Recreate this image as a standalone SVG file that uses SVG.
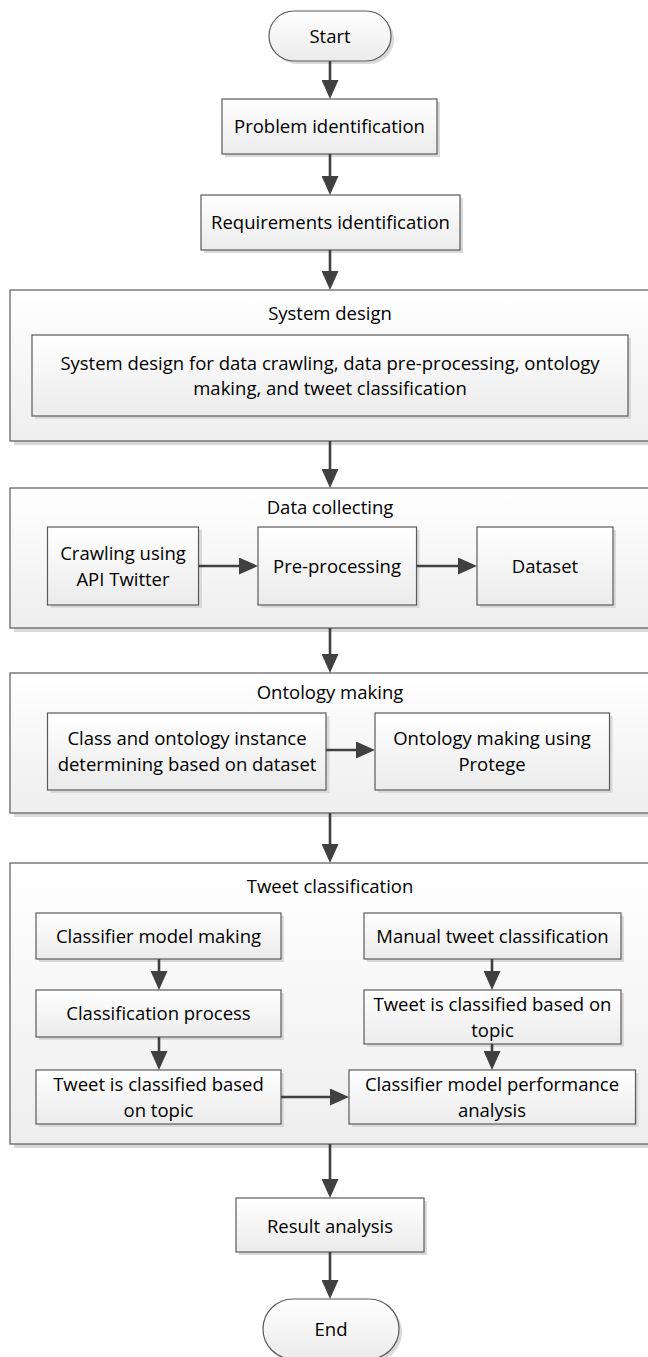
<svg xmlns="http://www.w3.org/2000/svg" width="648" height="1357" viewBox="0 0 648 1357">
<style>
  .box{fill:url(#g);stroke:#5a5a5a;stroke-width:1.2}
  .outer{fill:url(#g2);stroke:#5a5a5a;stroke-width:1.2}
  .sh{fill:#d9d9d9}
  .t{font-family:"Open Sans","Liberation Sans",sans-serif;font-size:18.5px;fill:#000;text-anchor:middle}
  .c{stroke:#404040;stroke-width:2.6;fill:none;marker-end:url(#ah)}
</style>
<defs>
  <linearGradient id="g" x1="0" y1="0" x2="0" y2="1">
    <stop offset="0" stop-color="#ffffff"/>
    <stop offset="1" stop-color="#ebebeb"/>
  </linearGradient>
  <linearGradient id="g2" x1="0" y1="0" x2="0" y2="1">
    <stop offset="0" stop-color="#ffffff"/>
    <stop offset="1" stop-color="#eeeeee"/>
  </linearGradient>
  <marker id="ah" markerUnits="userSpaceOnUse" markerWidth="19" markerHeight="17" refX="15" refY="8.5" orient="auto">
    <path d="M0,0 L19,8.5 L0,17 z" fill="#404040"/>
  </marker>
</defs>
<rect width="648" height="1357" fill="#ffffff"/>

<!-- Containers -->
<g id="system-design">
  <rect class="sh" x="14" y="294" width="660" height="151"/>
  <rect class="outer" x="10" y="290" width="660" height="151"/>
  <text class="t" x="330" y="319.5">System design</text>
</g>
<g id="system-design-detail">
  <rect class="sh" x="35" y="338" width="596" height="81"/>
  <rect class="box" x="32" y="335" width="596" height="81"/>
  <text class="t" x="330" y="369.5">System design for data crawling, data pre-processing, ontology</text>
  <text class="t" x="330" y="394.5">making, and tweet classification</text>
</g>

<g id="data-collecting">
  <rect class="sh" x="14" y="492" width="660" height="140"/>
  <rect class="outer" x="10" y="488" width="660" height="140"/>
  <text class="t" x="330" y="513.5">Data collecting</text>
</g>
<g id="crawling">
  <rect class="sh" x="51" y="530" width="151" height="78"/>
  <rect class="box" x="47.5" y="527" width="151" height="78"/>
  <text class="t" x="123" y="559.5">Crawling using</text>
  <text class="t" x="123" y="585.5">API Twitter</text>
</g>
<g id="pre-processing">
  <rect class="sh" x="261" y="530" width="158.5" height="78"/>
  <rect class="box" x="258" y="527" width="158.5" height="78"/>
  <text class="t" x="337" y="572.5">Pre-processing</text>
</g>
<g id="dataset">
  <rect class="sh" x="480" y="530" width="136" height="78"/>
  <rect class="box" x="477" y="527" width="136" height="78"/>
  <text class="t" x="545" y="572.5">Dataset</text>
</g>

<g id="ontology-making">
  <rect class="sh" x="14" y="677" width="660" height="140"/>
  <rect class="outer" x="10" y="673" width="660" height="140"/>
  <text class="t" x="330" y="698.5">Ontology making</text>
</g>
<g id="class-instance">
  <rect class="sh" x="51" y="716" width="278.5" height="77"/>
  <rect class="box" x="47.5" y="713" width="278.5" height="77"/>
  <text class="t" x="187" y="744.5">Class and ontology instance</text>
  <text class="t" x="187" y="770.5">determining based on dataset</text>
</g>
<g id="ontology-protege">
  <rect class="sh" x="378" y="716" width="234.5" height="77"/>
  <rect class="box" x="375" y="713" width="234.5" height="77"/>
  <text class="t" x="492" y="744.5">Ontology making using</text>
  <text class="t" x="492" y="770.5">Protege</text>
</g>

<g id="tweet-classification">
  <rect class="sh" x="14" y="867" width="660" height="281"/>
  <rect class="outer" x="10" y="863" width="660" height="281"/>
  <text class="t" x="330" y="892.5">Tweet classification</text>
</g>
<g id="classifier-model-making">
  <rect class="sh" x="39" y="916" width="245" height="46"/>
  <rect class="box" x="36" y="913" width="245" height="46"/>
  <text class="t" x="158.5" y="942.5">Classifier model making</text>
</g>
<g id="classification-process">
  <rect class="sh" x="39" y="993" width="245" height="47"/>
  <rect class="box" x="36" y="990" width="245" height="47"/>
  <text class="t" x="158.5" y="1019.5">Classification process</text>
</g>
<g id="tweet-classified-left">
  <rect class="sh" x="39" y="1073" width="245" height="54"/>
  <rect class="box" x="36" y="1070" width="245" height="54"/>
  <text class="t" x="158.5" y="1090.5">Tweet is classified based</text>
  <text class="t" x="158.5" y="1116.5">on topic</text>
</g>
<g id="manual-classification">
  <rect class="sh" x="367" y="916" width="257" height="46"/>
  <rect class="box" x="364" y="913" width="257" height="46"/>
  <text class="t" x="492.5" y="942.5">Manual tweet classification</text>
</g>
<g id="tweet-classified-right">
  <rect class="sh" x="367" y="993" width="257" height="54"/>
  <rect class="box" x="364" y="990" width="257" height="54"/>
  <text class="t" x="492.5" y="1010.5">Tweet is classified based on</text>
  <text class="t" x="492.5" y="1036.5">topic</text>
</g>
<g id="performance-analysis">
  <rect class="sh" x="352" y="1073" width="286.5" height="54"/>
  <rect class="box" x="349" y="1070" width="286.5" height="54"/>
  <text class="t" x="492" y="1090.5">Classifier model performance</text>
  <text class="t" x="492" y="1116.5">analysis</text>
</g>

<!-- Simple nodes -->
<g id="start">
  <rect class="sh" x="272" y="14" width="122" height="50" rx="25"/>
  <rect class="box" x="269" y="11" width="122" height="50" rx="25"/>
  <text class="t" x="330" y="42.5">Start</text>
</g>
<g id="problem-identification">
  <rect class="sh" x="225" y="102" width="215" height="55"/>
  <rect class="box" x="222" y="99" width="215" height="55"/>
  <text class="t" x="329.5" y="132.5">Problem identification</text>
</g>
<g id="requirements-identification">
  <rect class="sh" x="204" y="198" width="259" height="55"/>
  <rect class="box" x="201" y="195" width="259" height="55"/>
  <text class="t" x="330.5" y="228.5">Requirements identification</text>
</g>
<g id="result-analysis">
  <rect class="sh" x="239" y="1201" width="188" height="54"/>
  <rect class="box" x="236" y="1198" width="188" height="54"/>
  <text class="t" x="330" y="1232.5">Result analysis</text>
</g>
<g id="end">
  <rect class="sh" x="266" y="1302" width="136" height="60" rx="30"/>
  <rect class="box" x="263" y="1299" width="136" height="60" rx="30"/>
  <text class="t" x="331" y="1335.5">End</text>
</g>

<!-- Connectors -->
<g id="connectors">
  <line class="c" x1="330" y1="61" x2="330" y2="95"/>
  <line class="c" x1="330" y1="154" x2="330" y2="191"/>
  <line class="c" x1="330" y1="250" x2="330" y2="286"/>
  <line class="c" x1="330" y1="441" x2="330" y2="484"/>
  <line class="c" x1="198.5" y1="566" x2="254" y2="566"/>
  <line class="c" x1="416.5" y1="566" x2="473" y2="566"/>
  <line class="c" x1="330" y1="628" x2="330" y2="669"/>
  <line class="c" x1="326" y1="750" x2="371" y2="750"/>
  <line class="c" x1="330" y1="813" x2="330" y2="859"/>
  <line class="c" x1="159" y1="959" x2="159" y2="986"/>
  <line class="c" x1="159" y1="1037" x2="159" y2="1066"/>
  <line class="c" x1="492" y1="959" x2="492" y2="986"/>
  <line class="c" x1="492" y1="1044" x2="492" y2="1066"/>
  <line class="c" x1="281" y1="1097" x2="345" y2="1097"/>
  <line class="c" x1="330" y1="1144" x2="330" y2="1194"/>
  <line class="c" x1="330" y1="1252" x2="330" y2="1295"/>
</g>
</svg>
